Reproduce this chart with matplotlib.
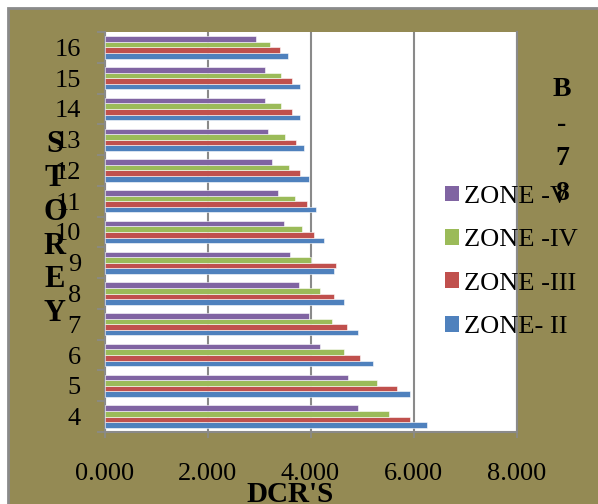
import numpy as np
import matplotlib
matplotlib.use('Agg')
import matplotlib.pyplot as plt
from matplotlib.patches import Rectangle, Patch

# этажи и значения DCR по сейсмическим зонам
stories = [4, 5, 6, 7, 8, 9, 10, 11, 12, 13, 14, 15, 16]
zone_ii = [6.26, 5.94, 5.21, 4.92, 4.66, 4.45, 4.26, 4.10, 3.98, 3.88, 3.79, 3.79, 3.56]
zone_iii = [5.94, 5.67, 4.97, 4.70, 4.46, 4.49, 4.07, 3.93, 3.80, 3.72, 3.64, 3.64, 3.41]
zone_iv = [5.53, 5.30, 4.66, 4.41, 4.18, 4.00, 3.84, 3.70, 3.59, 3.50, 3.43, 3.43, 3.22]
zone_v = [4.92, 4.73, 4.19, 3.98, 3.78, 3.61, 3.48, 3.36, 3.26, 3.18, 3.12, 3.12, 2.94]
x_ticks = [0, 2, 4, 6, 8]
x_labels = ['0.000', '2.000', '4.000', '6.000', '8.000']

series = [
    ('ZONE- II', zone_ii, '#4F81BD'),
    ('ZONE -III', zone_iii, '#C0504D'),
    ('ZONE -IV', zone_iv, '#9BBB59'),
    ('ZONE -V', zone_v, '#8064A2'),
]

plt.rcParams['font.family'] = ['Liberation Serif', 'DejaVu Serif']

W, H = 598, 504
fig = plt.figure(figsize=(W / 100, H / 100), dpi=100, facecolor='white')

# оливковый фон с серой рамкой
fig.patches.append(Rectangle((8 / W, -0.05), 1.2, (H - 8) / H + 0.05,
                             transform=fig.transFigure, facecolor='#948A54',
                             edgecolor='#8a8a8a', linewidth=2, zorder=-5))

ax = fig.add_axes([104.5 / W, 72 / H, 412 / W, 400 / H])
ax.set_facecolor('white')

pos = np.arange(len(stories))
h = 1 / 5.5
for i, (name, vals, col) in enumerate(series):
    ax.barh(pos + (i - 1.5) * h, vals, height=h, color=col,
            edgecolor='white', linewidth=0.4, label=name, zorder=3)

ax.set_xlim(0, 8)
ax.set_ylim(-0.5, len(stories) - 0.5)
ax.set_xticks(x_ticks)
ax.set_xticklabels(x_labels, fontsize=19)
ax.set_yticks(pos)
ax.set_yticklabels([str(s) for s in stories], fontsize=19)
ax.set_yticks(np.arange(len(stories) + 1) - 0.5, minor=True)
ax.tick_params(axis='y', which='major', length=0, pad=17)
ax.tick_params(axis='y', which='minor', length=6, color='#8a8a8a', width=1.2)
ax.tick_params(axis='x', length=4, color='#8a8a8a', width=1.2, pad=18)
ax.grid(axis='x', color='#8a8a8a', linewidth=1.5, zorder=1)
ax.spines['top'].set_visible(False)
for s in ['left', 'bottom', 'right']:
    ax.spines[s].set_color('#8a8a8a')
    ax.spines[s].set_linewidth(1.5)

handles = [Patch(facecolor=c) for _, _, c in series[::-1]]
labels = [n for n, _, _ in series[::-1]]
fig.legend(handles, labels, loc='upper left', bbox_to_anchor=(434 / W, 1 - 175 / H),
           frameon=False, fontsize=19, handlelength=0.55, handleheight=0.55,
           handletextpad=0.2, labelspacing=0.8, borderaxespad=0)

fig.text(55 / W, 1 - 130 / H, 'S\nT\nO\nR\nE\nY', fontsize=22, fontweight='bold',
         ha='center', va='top', linespacing=1.22)
fig.text(562 / W, 1 - 77 / H, 'B\n-\n7\n8', fontsize=20, fontweight='bold',
         ha='center', va='top', linespacing=1.5)
fig.text(290 / W, 2 / H, "DCR'S", fontsize=21, fontweight='bold',
         ha='center', va='baseline')

fig.savefig('out.png', dpi=100, facecolor='white')
